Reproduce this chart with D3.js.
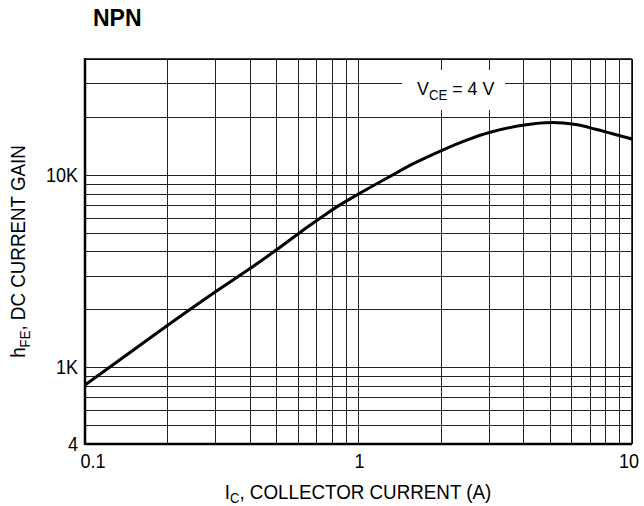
<!DOCTYPE html>
<html>
<head>
<meta charset="utf-8">
<script src="https://cdn.jsdelivr.net/npm/d3@7"></script>
<style>
  body { margin: 0; background: #fff; }
  text { font-family: "Liberation Sans", Arial, sans-serif; fill: #000; }
</style>
</head>
<body>
<svg id="chart" width="644" height="506"></svg>
<script>
// values
const collectorCurrent = [0.1, 0.2, 0.3, 0.4, 0.5, 0.62, 0.73, 0.83, 1.03, 1.3, 1.6, 2.04, 2.5, 3.03, 4.04, 5.09, 6.23, 7.37, 8.36, 10];
const dcGain = [810, 1650, 2470, 3250, 4070, 5100, 6000, 6800, 8150, 9800, 11500, 13500, 15200, 16650, 18160, 18700, 18250, 17260, 16450, 15360];

const xTickValues = [0.1, 1, 10];
const xTickLabels = ["0.1", "1", "10"];
const yTickValues = [400, 1000, 10000];
const yTickLabels = ["4", "1K", "10K"];

const margin = { left: 85, right: 12, top: 59, bottom: 62 };
const width = 644, height = 506;

const svg = d3.select("#chart");

const x = d3.scaleLog().domain([0.1, 10]).range([margin.left, width - margin.right]);
const y = d3.scaleLog().domain([400, 40000]).range([height - margin.bottom, margin.top]);

// no narrow font installed, so squeeze the sans horizontally
function place(sel, px, py, sx, rot) {
  return sel.attr("transform", `translate(${px},${py})` + (rot ? ` rotate(${rot})` : "") + ` scale(${sx},1)`);
}

// grid
const grid = svg.append("g").attr("stroke", "#222").attr("stroke-width", 1);
grid.selectAll("line.gx")
  .data(x.ticks())
  .join("line")
  .attr("class", "gx")
  .attr("x1", d => Math.round(x(d)) + 0.5).attr("x2", d => Math.round(x(d)) + 0.5)
  .attr("y1", y.range()[1]).attr("y2", y.range()[0]);
grid.selectAll("line.gy")
  .data(y.ticks())
  .join("line")
  .attr("class", "gy")
  .attr("y1", d => Math.round(y(d)) + 0.5).attr("y2", d => Math.round(y(d)) + 0.5)
  .attr("x1", x.range()[0]).attr("x2", x.range()[1]);

// V_CE label with a white box that cuts the grid
const note = svg.append("g");
note.append("rect")
  .attr("x", 402).attr("y", 70)
  .attr("width", 103).attr("height", 40)
  .attr("fill", "#fff");
const noteText = place(note.append("text"), 417, 95, 0.94)
  .attr("font-size", 19);
noteText.append("tspan").text("V");
noteText.append("tspan").attr("font-size", 14).attr("dy", 5).text("CE");
noteText.append("tspan").attr("dy", -5).text(" = 4 V");

// curve
const line = d3.line()
  .x((d, i) => x(collectorCurrent[i]))
  .y(d => y(d))
  .curve(d3.curveCatmullRom.alpha(0.5));
svg.append("path")
  .datum(dcGain)
  .attr("d", line)
  .attr("fill", "none")
  .attr("stroke", "#000")
  .attr("stroke-width", 3)
  .attr("stroke-linejoin", "round");

// frame
const [x0, x1] = x.range();
const [yb, yt] = y.range();
svg.append("line").attr("x1", x0).attr("x2", x1).attr("y1", yt).attr("y2", yt).attr("stroke", "#000").attr("stroke-width", 1.5);
svg.append("line").attr("x1", x1).attr("x2", x1).attr("y1", yt).attr("y2", yb).attr("stroke", "#000").attr("stroke-width", 1.5);
svg.append("line").attr("x1", x0).attr("x2", x0).attr("y1", yt - 1).attr("y2", yb + 1).attr("stroke", "#000").attr("stroke-width", 2.5);
svg.append("line").attr("x1", x0).attr("x2", x1).attr("y1", yb).attr("y2", yb).attr("stroke", "#000").attr("stroke-width", 2.5);

// tick labels
svg.selectAll("text.xt")
  .data(xTickValues)
  .join("text")
  .attr("class", "xt")
  .each(function (d, i) {
    place(d3.select(this), x(d) + (i === 0 ? 8 : (i === 2 ? -3 : 1)), 468, 0.9);
  })
  .attr("text-anchor", "middle")
  .attr("font-size", 20)
  .text((d, i) => xTickLabels[i]);

svg.selectAll("text.yt")
  .data(yTickValues)
  .join("text")
  .attr("class", "yt")
  .each(function (d) {
    place(d3.select(this), 78, y(d) + 7, 0.9);
  })
  .attr("text-anchor", "end")
  .attr("font-size", 20)
  .text((d, i) => yTickLabels[i]);

// axis titles
const xt = place(svg.append("text"), 358, 499, 0.94)
  .attr("text-anchor", "middle")
  .attr("font-size", 20);
xt.append("tspan").text("I");
xt.append("tspan").attr("font-size", 14).attr("dy", 4).text("C");
xt.append("tspan").attr("dy", -4).text(", COLLECTOR CURRENT (A)");

const yt2 = place(svg.append("text"), 25, (yt + yb) / 2, 0.94, -90)
  .attr("text-anchor", "middle")
  .attr("font-size", 20);
yt2.append("tspan").text("h");
yt2.append("tspan").attr("font-size", 14).attr("dy", 5).text("FE");
yt2.append("tspan").attr("dy", -5).text(", DC CURRENT GAIN");

// title
svg.append("text")
  .attr("x", 93).attr("y", 26)
  .attr("font-weight", "bold")
  .attr("font-size", 23)
  .text("NPN");
</script>
</body>
</html>
